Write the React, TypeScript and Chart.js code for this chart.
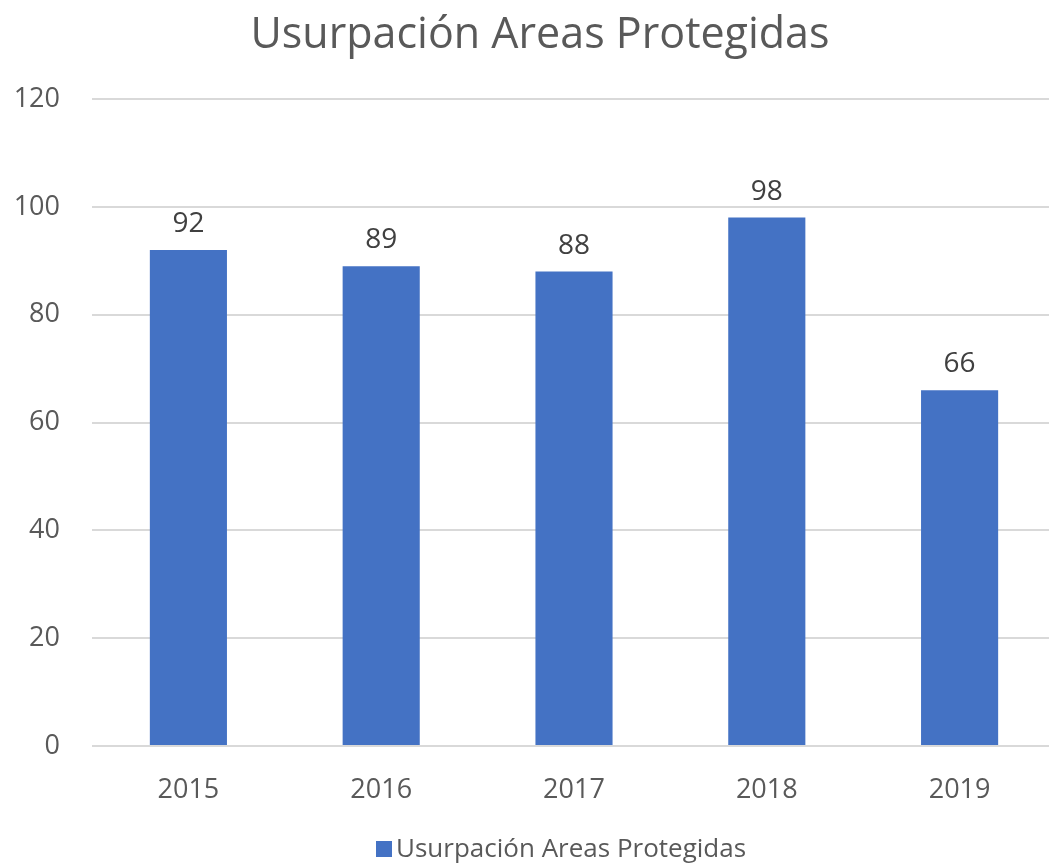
import React, { useEffect, useRef } from "react";
import { Chart, registerables } from "chart.js";

Chart.register(...registerables);

const categories = ["2015", "2016", "2017", "2018", "2019"];
const seriesName = "Usurpación Areas Protegidas";
const values = [92, 89, 88, 98, 66];
const yTicks = [0, 20, 40, 60, 80, 100, 120];

const FONT = "'Open Sans', 'Noto Sans', sans-serif";
const BAR_COLOR = "#4472C4";
const TEXT_COLOR = "#595959";

const dataLabelPlugin = {
  id: "dataLabels",
  afterDatasetsDraw(chart: any) {
    const ctx = chart.ctx;
    ctx.save();
    ctx.fillStyle = "#404040";
    ctx.font = `28px ${FONT}`;
    ctx.textAlign = "center";
    ctx.textBaseline = "bottom";
    chart.data.datasets.forEach((ds: any, i: number) => {
      const meta = chart.getDatasetMeta(i);
      meta.data.forEach((el: any, j: number) => {
        ctx.fillText(String(ds.data[j]), el.x, el.y - 12);
      });
    });
    ctx.restore();
  },
};

// Title and legend drawn as canvas text, placed like the Excel original
const titleLegendPlugin = {
  id: "titleLegend",
  afterDraw(chart: any, _args: any, opts: any) {
    const ctx = chart.ctx;
    ctx.save();
    // title
    ctx.fillStyle = TEXT_COLOR;
    ctx.font = `43px ${FONT}`;
    ctx.textAlign = "center";
    ctx.textBaseline = "middle";
    ctx.fillText(opts.title, opts.titleX, opts.titleY);
    // legend
    const ds = chart.data.datasets[0];
    ctx.font = `26px ${FONT}`;
    ctx.textAlign = "left";
    ctx.fillStyle = ds.backgroundColor;
    ctx.fillRect(opts.legendX, opts.legendY - 8, 16, 16);
    ctx.fillStyle = TEXT_COLOR;
    ctx.fillText(ds.label, opts.legendX + 20, opts.legendY + 1);
    ctx.restore();
  },
};

export default function App() {
  const ref = useRef<HTMLCanvasElement>(null);
  useEffect(() => {
    document.body.style.margin = "0";
    document.body.style.overflow = "hidden";
    const chart = new Chart(ref.current!, {
      type: "bar",
      data: {
        labels: categories,
        datasets: [
          {
            label: seriesName,
            data: values,
            backgroundColor: BAR_COLOR,
            barPercentage: 0.4,
            categoryPercentage: 1,
          },
        ],
      },
      plugins: [dataLabelPlugin, titleLegendPlugin],
      options: {
        responsive: false,
        animation: false,
        layout: { padding: { left: 10, right: 0, top: 99, bottom: 29 } },
        plugins: {
          title: { display: false },
          legend: { display: false },
          tooltip: { enabled: false },
          titleLegend: {
            title: seriesName,
            titleX: 540,
            titleY: 36,
            legendX: 376,
            legendY: 849,
          },
        } as any,
        scales: {
          x: {
            grid: { display: false },
            border: { display: false },
            afterFit: (axis: any) => {
              axis.height = 90;
            },
            ticks: {
              color: TEXT_COLOR,
              font: { family: FONT, size: 27 },
              padding: 20,
            },
          },
          y: {
            min: 0,
            max: 120,
            afterBuildTicks: (axis: any) => {
              axis.ticks = yTicks.map((v) => ({ value: v }));
            },
            afterFit: (axis: any) => {
              axis.width = 82;
            },
            grid: { color: "#d9d9d9", lineWidth: 2, drawTicks: false },
            border: { display: false },
            ticks: {
              color: TEXT_COLOR,
              font: { family: FONT, size: 27 },
              padding: 32,
            },
          },
        },
      },
    });
    return () => chart.destroy();
  }, []);
  return (
    <div style={{ width: 1056, height: 865 }}>
      <canvas ref={ref} width={1056} height={865} />
    </div>
  );
}
